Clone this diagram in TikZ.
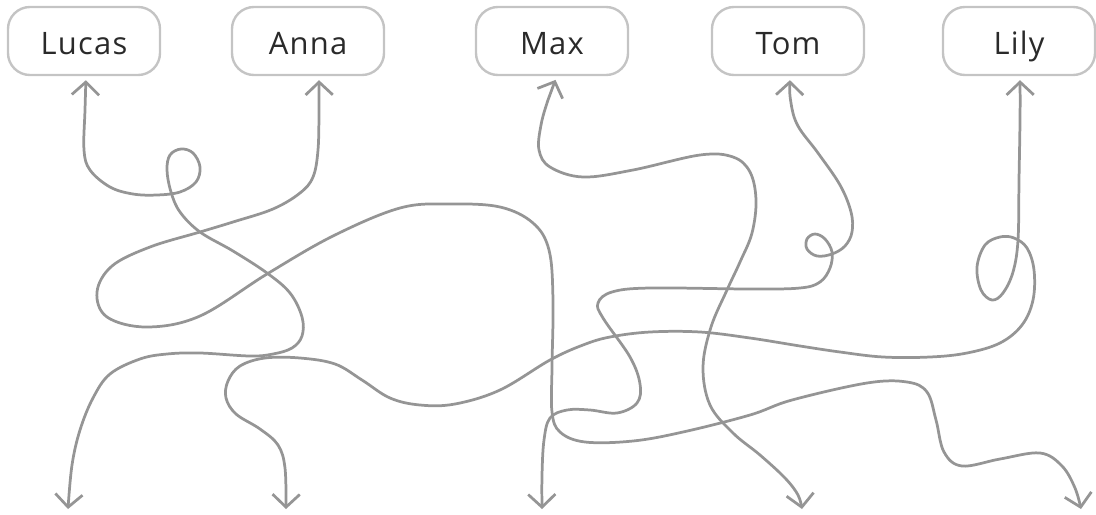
\documentclass[tikz,border=0pt]{standalone}
\usepackage{fontspec}
\setmainfont{Open Sans}
\newfontfamily\namefont[LetterSpace=4]{Open Sans}
\usetikzlibrary{arrows.meta}
\definecolor{boxline}{HTML}{C4C4C4}
\definecolor{wireline}{HTML}{959595}
\definecolor{nametext}{HTML}{2A2A2A}
\begin{document}
\begin{tikzpicture}[x=0.025cm,y=-0.025cm,
  person/.style={draw=boxline,line width=1.7pt,rounded corners=0.55cm,minimum width=3.8cm,minimum height=1.7cm,text=nametext,text height=24pt,text depth=5pt,font=\namefont\fontsize{22}{26}\selectfont},
  wire/.style={draw=wireline,line width=1.95pt,{Straight Barb[length=0.32cm,width=0.68cm]}-{Straight Barb[length=0.32cm,width=0.68cm]},shorten <=0.1cm}]
   \useasboundingbox (0,0) rectangle (1096,514);
   \node[person] (Lucas) at (84,41) {Lucas};
   \node[person] (Anna) at (308,41) {Anna};
   \node[person] (Max) at (552,41) {Max};
   \node[person] (Tom) at (788,41) {Tom};
   \node[person] (Lily) at (1019,41) {Lily};
   \coordinate (b1) at (68,509);
   \coordinate (b2) at (286,509);
   \coordinate (b3) at (542,509);
   \coordinate (b4) at (802,509);
   \coordinate (b5) at (1081,509);
   \draw[wire] plot[smooth,tension=0.6] coordinates {([xshift=0.05cm]Lucas.south) (85,110) (84,150) (90,170) (110,187) (133,194) (157,195) (180,192) (196,182) (200,167) (193,153) (181,149) (170,155) (167,170) (171,192) (180,212) (200,232) (233,251) (267,273) (290,293) (302,317) (302,336) (292,348) (273,354) (250,356) (200,353) (167,354) (140,359) (110,374) (93,398) (80,430) (72,465) (b1)};
   \draw[wire] plot[smooth,tension=0.6] coordinates {([xshift=0.275cm]Anna.south) (319,110) (318,150) (313,177) (300,193) (273,209) (233,222) (200,232) (150,247) (112,266) (97,292) (107,317) (147,327) (200,316) (267,274) (333,236) (400,208) (450,204) (500,207) (533,223) (549,250) (553,300) (552,367) (552,412) (560,432) (585,442) (633,441) (683,432) (750,415) (792,400) (867,383) (907,382) (927,392) (936,420) (944,452) (962,466) (1000,459) (1040,453) (1062,466) (1075,488) (b5)};
   \draw[wire] plot[smooth,tension=0.6] coordinates {([xshift=0.125cm]Max.south) (548,100) (541,125) (539,150) (550,167) (583,177) (633,170) (700,155) (733,157) (750,172) (756,200) (752,233) (740,262) (727,290) (711,327) (703,367) (710,405) (733,433) (760,455) (785,478) (798,495) (b4)};
   \draw[wire] plot[smooth,tension=0.6] coordinates {([xshift=0.05cm]Tom.south) (791,103) (798,126) (818,153) (840,185) (851,212) (852,232) (845,246) (832,254) (817,256) (807,249) (807,239) (815,234) (825,239) (832,252) (830,268) (820,282) (800,288) (750,289) (650,288) (612,292) (598,303) (603,318) (630,357) (640,384) (637,403) (617,413) (590,410) (567,410) (550,418) (544,440) (542,475) (b3)};
   \draw[wire] plot[smooth,tension=0.6] coordinates {([xshift=0.025cm]Lily.south) (1020,120) (1019,180) (1018,240) (1013,272) (1003,293) (992,300) (981,290) (977,267) (985,245) (1000,237) (1014,238) (1027,248) (1034,270) (1033,300) (1022,325) (1000,343) (967,353) (930,357) (883,357) (840,352) (800,346) (750,338) (700,332) (650,332) (610,337) (583,345) (550,360) (500,390) (455,404) (420,405) (390,398) (362,380) (335,364) (300,358) (265,358) (240,366) (228,381) (226,398) (236,414) (260,429) (278,445) (285,468) (b2)};
\end{tikzpicture}
\end{document}
